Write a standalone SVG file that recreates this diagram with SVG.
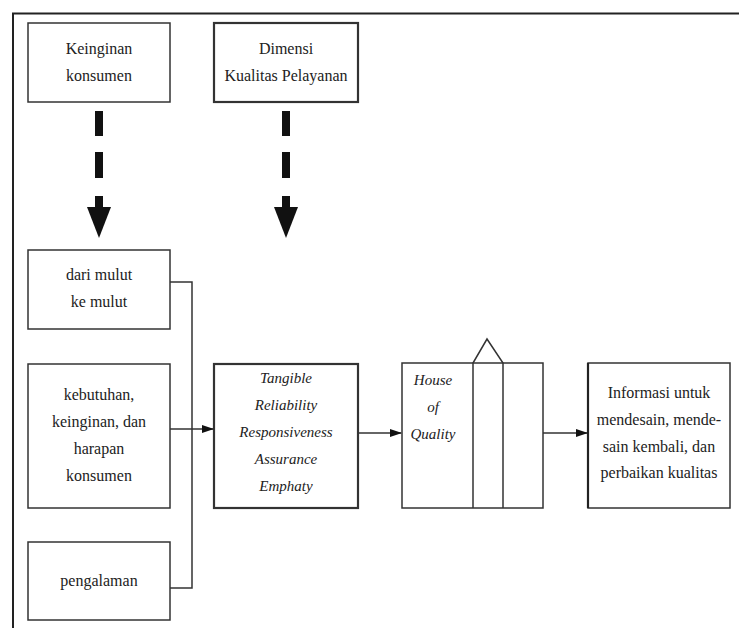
<svg xmlns="http://www.w3.org/2000/svg" width="739" height="628" viewBox="0 0 739 628">
<style>
.box{fill:#fff;stroke:#333;stroke-width:1.5}
.thick{stroke-width:2.2}
.t{font-family:"Liberation Serif","Times New Roman",serif;font-size:16px;fill:#222;text-anchor:middle}
.i{font-style:italic;font-size:15px}
.ln{fill:none;stroke:#333;stroke-width:1.5}
.da{fill:#111}
</style>
<defs>
<marker id="ah" markerWidth="12" markerHeight="8" refX="11" refY="4" orient="auto" markerUnits="userSpaceOnUse">
<path d="M0,0 L12,4 L0,8 Z" fill="#111"/>
</marker>
</defs>
<rect width="739" height="628" fill="#fff"/>
<g id="frame">
<path d="M13,628 V13.5 H739" fill="none" stroke="#222" stroke-width="2"/>
</g>
<g id="n-keinginan">
<rect class="box" x="28" y="23" width="142" height="79"/>
<text class="t" x="99" y="54">Keinginan</text>
<text class="t" x="99" y="81">konsumen</text>
</g>
<g id="n-dimensi">
<rect class="box thick" x="214" y="23" width="144" height="79"/>
<text class="t" x="286" y="54">Dimensi</text>
<text class="t" x="286" y="81">Kualitas Pelayanan</text>
</g>
<g id="n-mulut">
<rect class="box" x="28" y="250" width="142" height="79"/>
<text class="t" x="99" y="280">dari mulut</text>
<text class="t" x="99" y="307">ke mulut</text>
</g>
<g id="n-kebutuhan">
<rect class="box" x="28" y="364" width="142" height="144"/>
<text class="t" x="99" y="400">kebutuhan,</text>
<text class="t" x="99" y="427">keinginan, dan</text>
<text class="t" x="99" y="454">harapan</text>
<text class="t" x="99" y="481">konsumen</text>
</g>
<g id="n-pengalaman">
<rect class="box" x="28" y="542" width="142" height="78"/>
<text class="t" x="99" y="586">pengalaman</text>
</g>
<g id="n-dimensions">
<rect class="box thick" x="214" y="364" width="144" height="144"/>
<text class="t i" x="286" y="383">Tangible</text>
<text class="t i" x="286" y="410">Reliability</text>
<text class="t i" x="286" y="437">Responsiveness</text>
<text class="t i" x="286" y="464">Assurance</text>
<text class="t i" x="286" y="491">Emphaty</text>
</g>
<g id="n-hoq">
<rect class="box" x="402" y="363" width="141" height="145"/>
<path class="ln" d="M473,508 V363 L487,339 L503,363 V508"/>
<text class="t i" x="433" y="385">House</text>
<text class="t i" x="433" y="412">of</text>
<text class="t i" x="433" y="439">Quality</text>
</g>
<g id="n-informasi">
<rect class="box" x="588" y="363" width="142" height="145"/>
<line x1="588" y1="363" x2="588" y2="508" stroke="#222" stroke-width="2.2"/>
<text class="t" x="659" y="398">Informasi untuk</text>
<text class="t" x="659" y="425">mendesain, mende-</text>
<text class="t" x="659" y="452">sain kembali, dan</text>
<text class="t" x="659" y="478">perbaikan kualitas</text>
</g>
<g id="connectors">
<g id="dash1" class="da">
<rect x="95" y="111" width="8" height="25"/>
<rect x="95" y="152" width="8" height="26"/>
<rect x="95" y="196" width="8" height="12"/>
<path d="M87,207 L111,207 L99,238 Z"/>
</g>
<g id="dash2" class="da">
<rect x="282" y="111" width="8" height="25"/>
<rect x="282" y="152" width="8" height="26"/>
<rect x="282" y="196" width="8" height="12"/>
<path d="M274,207 L298,207 L286,238 Z"/>
</g>
<path class="ln" d="M170,282 H192 V588 H170"/>
<line class="ln" x1="170" y1="429" x2="213" y2="429" marker-end="url(#ah)"/>
<line class="ln" x1="358" y1="433" x2="401" y2="433" marker-end="url(#ah)"/>
<line class="ln" x1="543" y1="433" x2="587" y2="433" marker-end="url(#ah)"/>
</g>
</svg>
